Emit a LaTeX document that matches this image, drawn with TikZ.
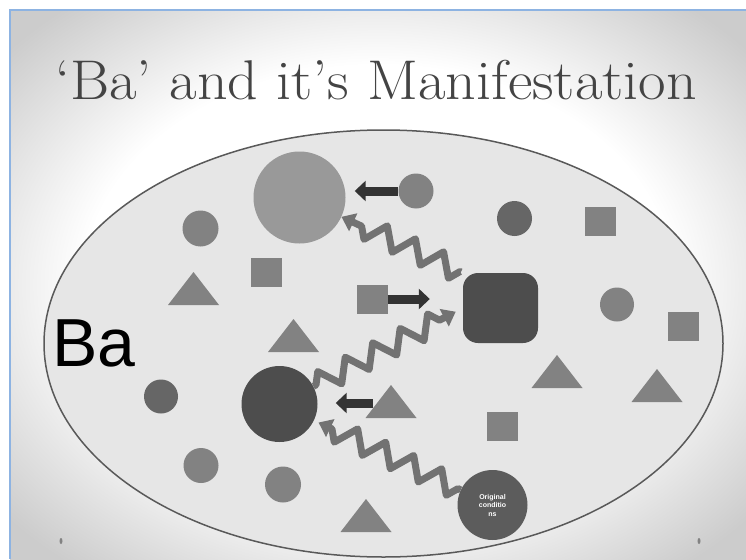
\documentclass[tikz,border=0pt]{standalone}
\usepackage{fontspec}
\newfontfamily\basans{Liberation Sans}
\usetikzlibrary{arrows.meta,decorations.pathmorphing}

\definecolor{slideblue}{HTML}{8DB3E2}
\definecolor{bafill}{HTML}{E6E6E6}
\definecolor{baline}{HTML}{595959}
\definecolor{pale}{HTML}{999999}
\definecolor{mid}{HTML}{828282}
\definecolor{dim}{HTML}{666666}
\definecolor{deep}{HTML}{4D4D4D}
\definecolor{origfill}{HTML}{5C5C5C}
\definecolor{arrowblk}{HTML}{333333}
\definecolor{titlegray}{HTML}{444444}
\definecolor{wavegray}{HTML}{727272}

\pgfdeclareradialshading{slideglow}{\pgfpoint{0bp}{0bp}}{%
  color(0bp)=(white); color(20bp)=(white); color(33bp)=(gray!40); color(50bp)=(gray!40)}

\tikzset{
  blob/.style={circle, inner sep=0pt, minimum size=#1},
  tile/.style={rectangle, inner sep=0pt, minimum width=31pt, minimum height=29pt, fill=mid},
  blk/.style={arrowblk, line width=9pt, -{Triangle[width=20pt,length=11pt]}},
  wave/.style={wavegray, line width=7pt, line join=round,
    decorate, decoration={zigzag, amplitude=11pt, segment length=31pt, pre length=3pt, post length=12pt},
    -{Triangle[width=19pt,length=13pt]}},
}

\begin{document}
\begin{tikzpicture}[x=1pt, y=-1pt]
  \useasboundingbox (0,0) rectangle (746,559);
  % slide background and frame
  \fill[white] (0,0) rectangle (746,559);
  \shade[shading=slideglow] (10,10) rectangle (746,559);
  \draw[slideblue, line width=1.5pt] (10,559) -- (10,10) -- (746,10);

  % title
  \node[titlegray, anchor=base, inner sep=0pt, font=\fontsize{56}{56}\selectfont] (title) at (376,100)
    {\scalebox{1.07}[1]{`Ba' and it's Manifestation}};

  % the Ba ellipse
  \draw[baline, line width=1.5pt, fill=bafill] (383.5,343.5) ellipse (339.5 and 213.5);
  \node[anchor=base west, inner sep=0pt, font=\basans\fontsize{68}{68}\selectfont] (ba) at (52,366) {Ba};

  % triangles
  \foreach \x/\y in {193.5/305, 293.5/352, 391/418, 366/532, 557/388, 657/402}
    \fill[mid] (\x-25.5,\y) -- (\x+25.5,\y) -- (\x,\y-33) -- cycle;

  % squares
  \node[tile] (sqa) at (600,221) {};
  \node[tile] (sqb) at (266,272) {};
  \node[tile] (sqc) at (372,299) {};
  \node[tile] (sqd) at (683,326.5) {};
  \node[tile] (sqe) at (502.5,426.5) {};

  % circles
  \node[blob=36pt, fill=mid] (ca) at (200.5,228.5) {};
  \node[blob=35pt, fill=mid] (smc) at (416,191) {};
  \node[blob=35pt, fill=dim] (cb) at (514.5,218.5) {};
  \node[blob=34pt, fill=mid] (cc) at (617,304.5) {};
  \node[blob=34pt, fill=dim] (cd) at (161,396.5) {};
  \node[blob=35pt, fill=mid] (ce) at (201,465.5) {};
  \node[blob=36pt, fill=mid] (cf) at (283,484.5) {};
  \node[blob=92pt, fill=pale] (bigc) at (299.5,197.5) {};
  \node[blob=76pt, fill=deep] (dkc) at (279.5,404) {};
  \node[rectangle, rounded corners=15pt, minimum width=75pt, minimum height=70pt, fill=deep] (rsq) at (500.5,308) {};
  \node[blob=70pt, fill=origfill, text=white, align=center, font=\basans\bfseries\fontsize{7}{8.5}\selectfont] (orig) at (492.5,505) {Original\\conditio\\ns};

  % dots in the bottom corners
  \fill[mid] (61,541) ellipse (1.5 and 3);
  \fill[mid] (699,541) ellipse (1.5 and 3);

  % straight arrows
  \coordinate (trislope) at (373,403);
  \draw[blk, shorten >=9pt] (smc.west) -- (smc.west -| bigc.east);
  \draw[blk, shorten >=33pt] (sqc.east) -- (sqc.east -| rsq.west);
  \draw[blk, shorten >=18pt] (trislope) -- (trislope -| dkc.east);

  % wavy arrows
  \draw[wave, shorten <=2pt] (rsq.north west) -- (bigc);
  \draw[wave, shorten >=8pt] (dkc) -- (rsq.west);
  \draw[wave, shorten >=5pt] (orig) -- (dkc);
\end{tikzpicture}
\end{document}
